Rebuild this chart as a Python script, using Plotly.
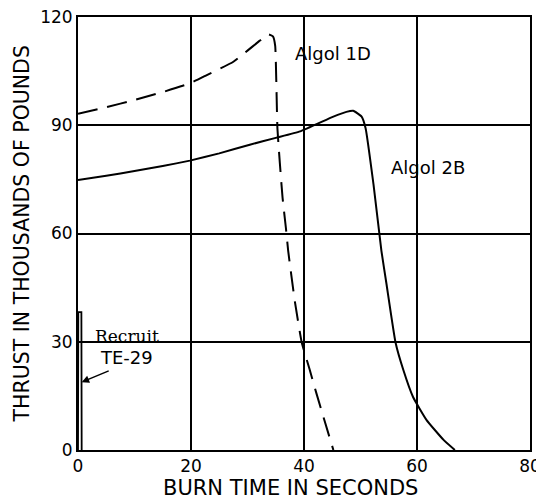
import plotly.graph_objects as go

# Algol 1D (dashed)
algol1d_t = [0, 5, 10, 15, 19.8, 22.8, 27.5, 31.9, 33.7, 34.5, 34.9, 35.3, 36.2, 36.8, 37.2, 38.4, 39.6, 41.0, 42.2, 43.6, 45.2]
algol1d_f = [93.2, 95.0, 97.0, 99.2, 101.6, 103.9, 107.6, 113.1, 115.2, 114.6, 112.0, 89.0, 70.0, 61.5, 55.2, 41.0, 29.8, 22.3, 15.7, 8.3, 0.0]

# Algol 2B (solid)
algol2b_t = [0, 5, 10, 15, 19.8, 25, 30.4, 35, 39.3, 45.2, 47.5, 48.7, 50.2, 50.9, 52.3, 53.7, 54.6, 56.2, 57.6, 59.3, 61.7, 64.7, 66.7]
algol2b_f = [74.8, 76.0, 77.3, 78.7, 80.2, 82.2, 84.6, 86.5, 88.3, 92.4, 93.7, 94.0, 92.4, 89.2, 73.6, 55.2, 46.0, 29.8, 22.1, 14.7, 8.3, 2.8, 0.0]

# Recruit TE-29
recruit_t = [0, 0.05, 0.6, 0.65]
recruit_f = [0, 38.2, 38.2, 0]

x_ticks = [0, 20, 40, 60, 80]
y_ticks = [0, 30, 60, 90, 120]

FONT = "DejaVu Sans, Liberation Sans, sans-serif"

fig = go.Figure()
fig.add_trace(go.Scatter(x=algol1d_t, y=algol1d_f, mode="lines",
                         line=dict(color="black", width=2, dash="20px,10px", shape="spline", smoothing=0.4),
                         name="Algol 1D", showlegend=False))
fig.add_trace(go.Scatter(x=algol2b_t, y=algol2b_f, mode="lines",
                         line=dict(color="black", width=2, shape="spline", smoothing=0.4),
                         name="Algol 2B", showlegend=False))
fig.add_trace(go.Scatter(x=recruit_t, y=recruit_f, mode="lines",
                         line=dict(color="black", width=1.8),
                         name="Recruit TE-29", showlegend=False))

fig.add_annotation(x=45.2, y=109.9, text="Algol 1D", showarrow=False,
                   font=dict(size=18, family=FONT, color="black"))
fig.add_annotation(x=62.0, y=78.4, text="Algol 2B", showarrow=False,
                   font=dict(size=18, family=FONT, color="black"))
fig.add_annotation(x=8.6, y=31.6, text="Recruit", showarrow=False,
                   font=dict(size=17, family="DejaVu Serif, serif", color="black"))
fig.add_annotation(x=0.65, y=18.8, ax=5.7, ay=22.1, axref="x", ayref="y",
                   text="", showarrow=True, arrowhead=2, arrowsize=1, arrowwidth=1.5,
                   arrowcolor="black")
fig.add_annotation(x=8.6, y=25.7, text="TE-29", showarrow=False,
                   font=dict(size=18, family=FONT, color="black"))

# axis titles
fig.add_annotation(xref="paper", yref="paper", x=0.471, y=-0.087,
                   text="BURN TIME IN SECONDS", showarrow=False,
                   xanchor="center", yanchor="middle",
                   font=dict(size=21, family=FONT, color="black"))
fig.add_annotation(xref="paper", yref="paper", x=-0.124, y=0.5,
                   text="THRUST IN THOUSANDS OF POUNDS", showarrow=False, textangle=-90,
                   xanchor="center", yanchor="middle",
                   font=dict(size=20.5, family=FONT, color="black"))

fig.update_layout(
    width=544, height=500,
    margin=dict(l=70, r=22, t=9, b=58),
    paper_bgcolor="white", plot_bgcolor="white",
    font=dict(family=FONT, color="black"),
    xaxis=dict(range=[0, 80], tickvals=x_ticks, ticktext=[str(v) for v in x_ticks],
               showgrid=True, gridcolor="black", gridwidth=1.5,
               showline=True, linecolor="black", linewidth=2, mirror=True,
               zeroline=False, ticks="", tickfont=dict(size=17), automargin=False,
               ticklabeloverflow="allow"),
    yaxis=dict(range=[0, 120], tickvals=y_ticks, ticktext=[str(v) for v in y_ticks],
               showgrid=True, gridcolor="black", gridwidth=1.5,
               showline=True, linecolor="black", linewidth=2, mirror=True,
               zeroline=False, ticks="", tickfont=dict(size=17), automargin=False,
               ticklabeloverflow="allow"),
)

fig.write_html("out.html")
